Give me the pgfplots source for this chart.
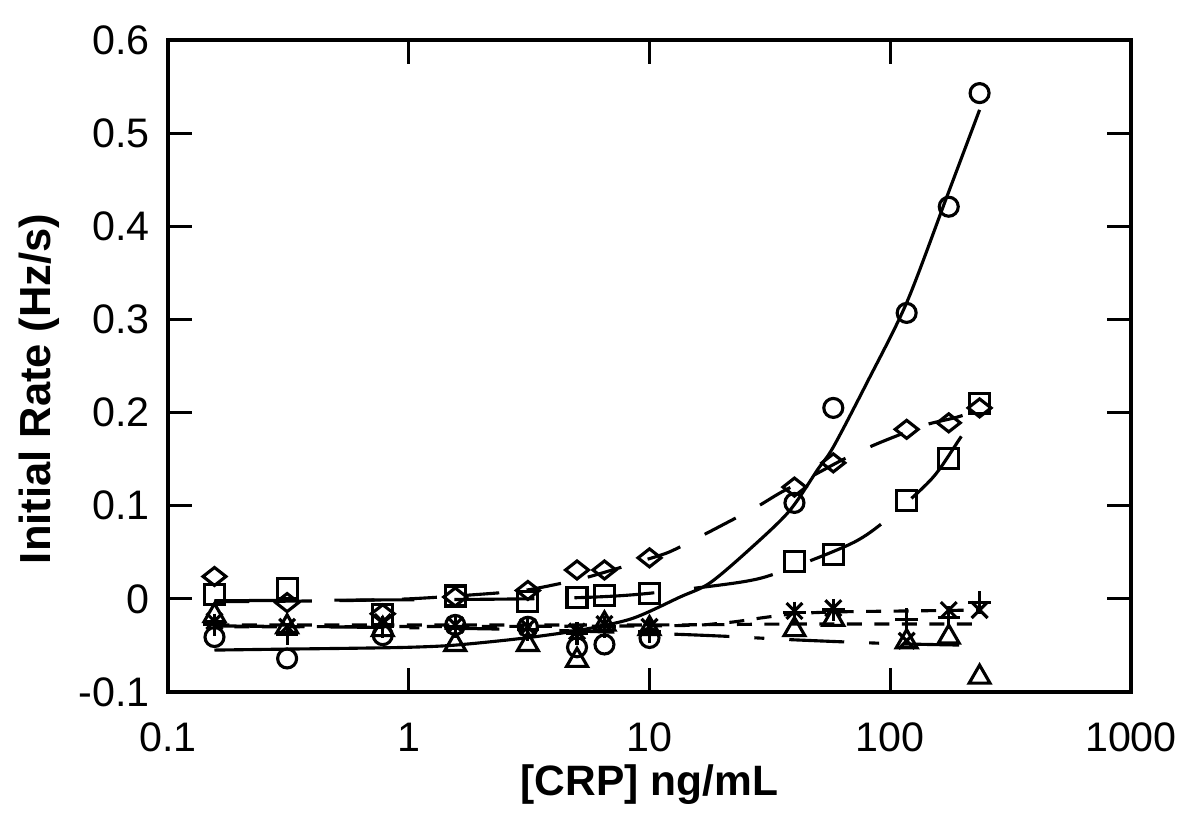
\documentclass[border=0pt]{standalone}
\usepackage{fontspec}
\setmainfont{Liberation Sans}
\usepackage{pgfplots}
\pgfplotsset{compat=1.18}
\begin{document}
\begin{tikzpicture}[x=1pt,y=1pt]
\useasboundingbox (0,0) rectangle (480,332);
\begin{axis}[
  at={(67.2pt,55.2pt)}, anchor=south west,
  width=385.2pt, height=260.8pt, scale only axis,
  xmode=log, xmin=0.1, xmax=1000, ymin=-0.1, ymax=0.6,
  xtick={0.1,1,10,100,1000}, xticklabels={0.1,1,10,100,1000},
  ytick={-0.1,0,0.1,0.2,0.3,0.4,0.5,0.6},
  yticklabels={-0.1,0,0.1,0.2,0.3,0.4,0.5,0.6},
  xminorticks=false, yminorticks=false,
  tick align=inside, major tick length=9.5pt,
  axis line style={line width=1.25pt},
  every tick/.style={line width=1.25pt, black},
  /pgf/number format/assume math mode=true,
  xticklabel style={font=\fontsize{16.5}{18}\selectfont, anchor=base, inner sep=0pt, yshift=-24pt},
  yticklabel style={font=\fontsize{16.5}{18}\selectfont, anchor=east, inner sep=0pt, xshift=-7.2pt},
  xlabel={[CRP] ng/mL}, ylabel={Initial Rate (Hz/s)},
  every axis x label/.style={at={(axis description cs:0.5,-0.1595)}, anchor=base, font=\bfseries\fontsize{17}{20}\selectfont},
  every axis y label/.style={at={(axis description cs:-0.1215,0.465)}, rotate=90, anchor=base, font=\bfseries\fontsize{17.4}{20}\selectfont},
]
% ---- fit curves ----
% circles fit (solid)
\addplot[black, line width=1.25pt, smooth, tension=0.5] coordinates {
 (0.156,-0.055) (0.3,-0.054) (0.6,-0.053) (1,-0.052) (1.5,-0.050) (2.4,-0.045)
 (3.5,-0.040) (5.3,-0.033) (8.5,-0.021) (13.4,0.002) (17.8,0.017) (26,0.053)
 (38,0.094) (50,0.139) (58,0.163) (80,0.232) (117,0.318) (172,0.432) (235,0.525)};
% diamonds fit (long dash)
\addplot[black, line width=1.25pt, smooth, tension=0.5, dash pattern=on 14pt off 11pt] coordinates {
 (0.156,-0.003) (0.5,-0.002) (1,0.0) (2,0.005) (3,0.009) (4,0.015) (5.3,0.022)
 (6.8,0.030) (9.1,0.040) (12,0.050) (16,0.066) (20,0.079) (28,0.099) (35,0.114)
 (46,0.130) (63,0.149) (82,0.163) (104,0.174) (141,0.187) (189,0.195) (240,0.204)};
% squares fit (very long dash)
\addplot[black, line width=1.25pt, smooth, tension=0.5, dash pattern=on 32pt off 16pt] coordinates {
 (0.156,-0.002) (1,-0.001) (3,0.0) (6,0.002) (10,0.006) (24,0.018) (35,0.029)
 (71,0.061) (104,0.092) (150,0.130) (190,0.168) (235,0.205)};
% plus fit (short dash)
\addplot[black, line width=1.25pt, smooth, tension=0.5, dash pattern=on 6pt off 5pt] coordinates {
 (0.156,-0.028) (10,-0.028) (40,-0.027) (235,-0.027)};
% cross fit (short dash)
\addplot[black, line width=1.25pt, smooth, tension=0.5, dash pattern=on 6pt off 5pt, dash phase=3pt] coordinates {
 (0.156,-0.030) (10,-0.029) (20,-0.026) (30,-0.020) (40,-0.016) (60,-0.014) (117,-0.013) (235,-0.012)};
% triangles fit (long-short dash)
\addplot[black, line width=1.25pt, smooth, tension=0.5, dash pattern=on 22pt off 10pt on 4pt off 10pt] coordinates {
 (0.156,-0.029) (1,-0.031) (3,-0.033) (10,-0.037) (20,-0.040) (40,-0.044) (100,-0.048) (235,-0.050)};
% ---- data points ----
\addplot[only marks, mark=o, mark size=3.8pt, mark options={solid, line width=1.25pt, black}] coordinates {
 (0.156,-0.041) (0.3125,-0.064) (0.78,-0.039) (1.56,-0.028) (3.125,-0.030) (5,-0.052)
 (6.5,-0.049) (10,-0.042) (40,0.103) (58,0.205) (117,0.307) (175,0.421) (235,0.543)};
\addplot[only marks, mark=diamond, mark size=3.6pt, mark options={solid, line width=1.25pt, black, xscale=1.7}] coordinates {
 (0.156,0.024) (0.3125,-0.004) (0.78,-0.016) (1.56,0.002) (3.125,0.009) (5,0.031)
 (6.5,0.031) (10,0.044) (40,0.120) (58,0.146) (117,0.182) (175,0.189) (235,0.205)};
\addplot[only marks, mark=square, mark size=4pt, mark options={solid, line width=1.25pt, black}] coordinates {
 (0.156,0.005) (0.3125,0.011) (0.78,-0.017) (1.56,0.003) (3.125,-0.003) (5,0.001)
 (6.5,0.004) (10,0.006) (40,0.040) (58,0.048) (117,0.106) (175,0.151) (235,0.210)};
\addplot[only marks, mark=triangle, mark size=4.8pt, mark options={solid, line width=1.25pt, black}] coordinates {
 (0.156,-0.018) (0.3125,-0.030) (0.78,-0.033) (1.56,-0.049) (3.125,-0.049) (5,-0.066)
 (6.5,-0.027) (10,-0.032) (40,-0.033) (58,-0.022) (117,-0.046) (175,-0.041) (235,-0.084)};
\addplot[only marks, mark=x, mark size=4.5pt, mark options={solid, line width=1.25pt, black}] coordinates {
 (0.156,-0.024) (0.3125,-0.030) (0.78,-0.025) (1.56,-0.028) (3.125,-0.030) (5,-0.035)
 (6.5,-0.027) (10,-0.030) (40,-0.013) (58,-0.010) (117,-0.045) (175,-0.012) (235,-0.012)};
\addplot[only marks, mark=+, mark size=4.5pt, mark options={solid, line width=1.25pt, black}] coordinates {
 (0.156,-0.028) (0.3125,-0.038) (0.78,-0.030) (1.56,-0.030) (3.125,-0.033) (5,-0.037)
 (6.5,-0.030) (10,-0.035) (40,-0.015) (58,-0.012) (117,-0.022) (175,-0.020) (235,-0.004)};
\end{axis}
\end{tikzpicture}
\end{document}
